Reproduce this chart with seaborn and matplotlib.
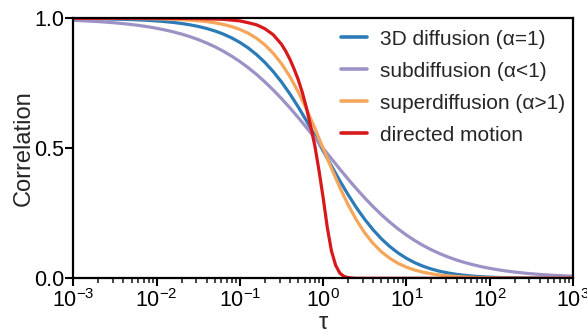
import numpy as np
import pandas as pd
import matplotlib
matplotlib.use("Agg")
import matplotlib.pyplot as plt
import seaborn as sns
from matplotlib.ticker import LogLocator, FixedLocator, NullFormatter
from matplotlib.lines import Line2D

# ---- data (x given as log10(tau)) ----
log_tau = [-3.0, -2.9, -2.8, -2.7, -2.6, -2.5, -2.4, -2.3, -2.2, -2.1,
           -2.0, -1.9, -1.8, -1.7, -1.6, -1.5, -1.4, -1.3, -1.2, -1.1,
           -1.0, -0.9, -0.8, -0.7, -0.6, -0.5, -0.4, -0.3, -0.2, -0.1,
           0.0, 0.1, 0.2, 0.3, 0.4, 0.5, 0.6, 0.7, 0.8, 0.9,
           1.0, 1.1, 1.2, 1.3, 1.4, 1.5, 1.6, 1.7, 1.8, 1.9,
           2.0, 2.1, 2.2, 2.3, 2.4, 2.5, 2.6, 2.7, 2.8, 2.9, 3.0]
diffusion_3d = [0.9990, 0.9987, 0.9984, 0.9980, 0.9975, 0.9968, 0.9960, 0.9949, 0.9936, 0.9920,
                0.9899, 0.9873, 0.9841, 0.9801, 0.9750, 0.9687, 0.9610, 0.9513, 0.9395, 0.9249,
                0.9073, 0.8860, 0.8605, 0.8304, 0.7953, 0.7550, 0.7096, 0.6596, 0.6055, 0.5487,
                0.4903, 0.4320, 0.3752, 0.3213, 0.2714, 0.2264, 0.1865, 0.1518, 0.1223, 0.0974,
                0.0768, 0.0600, 0.0464, 0.0356, 0.0270, 0.0204, 0.0152, 0.0113, 0.0083, 0.0061,
                0.0044, 0.0032, 0.0023, 0.0017, 0.0012, 0.0009, 0.0006, 0.0004, 0.0003, 0.0002, 0.0002]
subdiffusion = [0.9921, 0.9908, 0.9892, 0.9873, 0.9851, 0.9825, 0.9795, 0.9760, 0.9720, 0.9672,
                0.9617, 0.9553, 0.9479, 0.9394, 0.9295, 0.9182, 0.9052, 0.8905, 0.8737, 0.8548,
                0.8337, 0.8101, 0.7841, 0.7555, 0.7245, 0.6912, 0.6558, 0.6186, 0.5799, 0.5402,
                0.5000, 0.4598, 0.4201, 0.3814, 0.3442, 0.3088, 0.2755, 0.2445, 0.2160, 0.1899,
                0.1663, 0.1452, 0.1263, 0.1095, 0.0948, 0.0818, 0.0705, 0.0606, 0.0521, 0.0447,
                0.0383, 0.0328, 0.0280, 0.0240, 0.0205, 0.0175, 0.0149, 0.0127, 0.0109, 0.0093, 0.0079]
superdiffusion = [0.9999, 0.9999, 0.9998, 0.9998, 0.9997, 0.9996, 0.9994, 0.9992, 0.9989, 0.9985,
                  0.9980, 0.9973, 0.9963, 0.9950, 0.9931, 0.9907, 0.9873, 0.9827, 0.9766, 0.9683,
                  0.9572, 0.9426, 0.9232, 0.8981, 0.8659, 0.8255, 0.7762, 0.7176, 0.6506, 0.5771,
                  0.5000, 0.4229, 0.3494, 0.2824, 0.2239, 0.1745, 0.1341, 0.1019, 0.0768, 0.0575,
                  0.0428, 0.0317, 0.0234, 0.0173, 0.0127, 0.0094, 0.0069, 0.0050, 0.0037, 0.0027,
                  0.0020, 0.0015, 0.0011, 0.0008, 0.0006, 0.0004, 0.0003, 0.0002, 0.0002, 0.0001, 0.0001]
log_tau_directed = [-3.0, -2.0, -1.5, -1.2, -1.0, -0.9, -0.8, -0.7, -0.6, -0.5, -0.45, -0.4,
                    -0.35, -0.3, -0.25, -0.2, -0.15, -0.1, -0.05, 0.0, 0.05, 0.1, 0.15,
                    0.2, 0.25, 0.3, 0.35, 0.4, 0.5, 1.0, 2.0, 3.0]
directed = [1.000, 1.000, 0.999, 0.996, 0.990, 0.983, 0.975, 0.960, 0.937, 0.900, 0.874, 0.843,
            0.806, 0.765, 0.715, 0.655, 0.585, 0.510, 0.415, 0.310, 0.195, 0.105, 0.050,
            0.020, 0.007, 0.003, 0.001, 0.000, 0.000, 0.000, 0.000, 0.000]

labels = ["3D diffusion (\u03b1=1)", "subdiffusion (\u03b1<1)",
          "superdiffusion (\u03b1>1)", "directed motion"]
colors = ["#2c7bb6", "#9d92c6", "#f5a65b", "#d7191c"]
y_ticks = [0.0, 0.5, 1.0]
y_tick_labels = ["0.0", "0.5", "1.0"]

# ---- long-form table ----
frames = []
for lab, xs, ys in [(labels[0], log_tau, diffusion_3d),
                    (labels[1], log_tau, subdiffusion),
                    (labels[2], log_tau, superdiffusion),
                    (labels[3], log_tau_directed, directed)]:
    frames.append(pd.DataFrame({"tau": 10.0 ** np.asarray(xs), "G": ys, "curve": lab}))
df = pd.concat(frames, ignore_index=True)

sns.set_style("ticks")
plt.rcParams["font.family"] = ["Liberation Sans", "DejaVu Sans"]
plt.rcParams["mathtext.fontset"] = "custom"
plt.rcParams["mathtext.rm"] = "Liberation Sans"
plt.rcParams["mathtext.it"] = "Liberation Sans:italic"

fig = plt.figure(figsize=(5.87, 3.34), dpi=100)
ax = fig.add_axes([0.1249, 0.1668, 0.8512, 0.7784])

sns.lineplot(data=df, x="tau", y="G", hue="curve", hue_order=labels,
             palette=dict(zip(labels, colors)), linewidth=2.3,
             estimator=None, sort=True, ax=ax, legend=False)

ax.set_xscale("log")
ax.set_xlim(1e-3, 1e3)
ax.set_ylim(0, 1)
ax.xaxis.set_major_locator(LogLocator(base=10, numticks=10))
ax.xaxis.set_minor_locator(LogLocator(base=10, subs=np.arange(2, 10), numticks=20))
ax.xaxis.set_minor_formatter(NullFormatter())
ax.yaxis.set_major_locator(FixedLocator(y_ticks))
ax.set_yticklabels(y_tick_labels)

for sp in ax.spines.values():
    sp.set_visible(True)
    sp.set_linewidth(1.6)
    sp.set_color("black")

ax.tick_params(axis="both", which="major", direction="out", length=6, width=1.5,
               labelsize=15.5, colors="black", pad=2)
ax.tick_params(axis="y", which="major", pad=0.5)
ax.tick_params(axis="x", which="minor", direction="out", length=3.5, width=1.2)

ax.set_xlabel("\u03c4", fontsize=17, labelpad=0)
ax.set_ylabel("Correlation", fontsize=17)
ax.yaxis.set_label_coords(-0.077, 0.5)

handles = [Line2D([0], [0], color=c, lw=2.6) for c in colors]
ax.legend(handles, labels, loc="upper right", bbox_to_anchor=(1.0, 0.988),
          frameon=False, fontsize=15, handlelength=1.25, handletextpad=0.58,
          labelspacing=0.62, borderaxespad=0.0)

fig.savefig("out.png", dpi=100)
